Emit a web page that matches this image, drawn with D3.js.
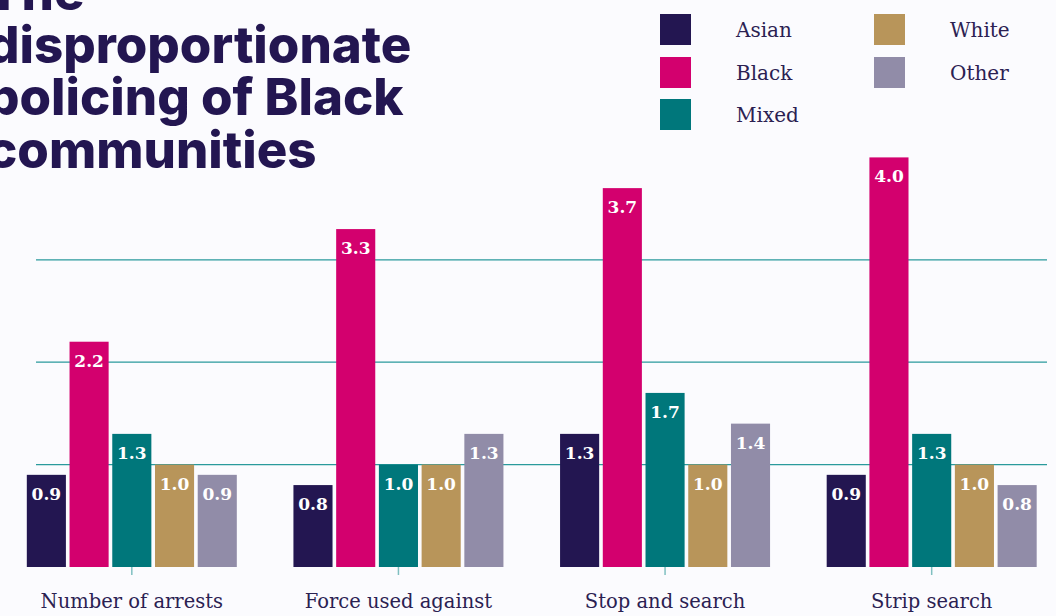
<!DOCTYPE html>
<html>
<head>
<meta charset="utf-8">
<script src="https://cdn.jsdelivr.net/npm/d3@7"></script>
<style>
  html, body { margin: 0; padding: 0; background: #fbfbfe; }
  svg { display: block; }
</style>
</head>
<body>
<svg id="chart" width="1056" height="616"></svg>
<script>
// Rates relative to the White group, by police action
const categories = ["Number of arrests", "Force used against", "Stop and search", "Strip search"];
const groups = ["Asian", "Black", "Mixed", "White", "Other"];
const asian = [0.9, 0.8, 1.3, 0.9];
const black = [2.2, 3.3, 3.7, 4.0];
const mixed = [1.3, 1.0, 1.7, 1.3];
const white = [1.0, 1.0, 1.0, 1.0];
const other = [0.9, 1.3, 1.4, 0.8];
const gridValues = [1, 2, 3];
const titleLines = ["The", "disproportionate", "policing of Black", "communities"];

const seriesValues = { Asian: asian, Black: black, Mixed: mixed, White: white, Other: other };
const colors = { Asian: "#231651", Black: "#d3006e", Mixed: "#00777b", White: "#b8955a", Other: "#918ca8" };

const svg = d3.select("#chart");
const ink = "#2b2152";
const serif = "'DejaVu Serif', 'Liberation Serif', serif";

const x0 = d3.scaleBand().domain(categories).range([-1.5, 1065]).padding(0);
const x1 = d3.scaleBand().domain(groups).range([0, 210]).paddingInner(0.085).paddingOuter(0);
const y = d3.scaleLinear().domain([0, 4]).range([567, 157.4]);

// Horizontal gridlines
svg.append("g").selectAll("line").data(gridValues).join("line")
  .attr("x1", 36).attr("x2", 1047)
  .attr("y1", d => y(d)).attr("y2", d => y(d))
  .attr("stroke", "#2a9a9c").attr("stroke-width", 1.2);

// Bars
const table = categories.map((c, i) => ({ category: c, values: groups.map(g => ({ group: g, value: seriesValues[g][i] })) }));
const groupG = svg.append("g").selectAll("g").data(table).join("g")
  .attr("transform", d => `translate(${x0(d.category) + x0.bandwidth() / 2 - 105},0)`);

groupG.selectAll("rect").data(d => d.values).join("rect")
  .attr("x", d => x1(d.group))
  .attr("width", x1.bandwidth())
  .attr("y", d => y(d.value))
  .attr("height", d => y(0) - y(d.value))
  .attr("fill", d => colors[d.group]);

groupG.selectAll("text").data(d => d.values).join("text")
  .attr("x", d => x1(d.group) + x1.bandwidth() / 2)
  .attr("y", d => y(d.value) + 25)
  .attr("text-anchor", "middle")
  .attr("font-family", serif)
  .attr("font-weight", "bold")
  .attr("font-size", 17)
  .attr("fill", "#ffffff")
  .text(d => d.value.toFixed(1));

// Category axis
const xAxis = d3.axisBottom(x0).tickSize(8).tickSizeOuter(0);
const axisG = svg.append("g").attr("transform", `translate(0,${y(0)})`).call(xAxis);
axisG.select(".domain").remove();
axisG.selectAll(".tick line").attr("stroke", "#7fbfc0").attr("stroke-width", 1.5);
axisG.selectAll(".tick text")
  .attr("y", 0).attr("dy", 0)
  .attr("transform", "translate(0,41)")
  .attr("font-family", serif)
  .attr("font-size", 19.5)
  .attr("fill", ink);

// Legend
const legendPos = {
  Asian: [660, 14], Black: [660, 57], Mixed: [660, 99],
  White: [874, 14], Other: [874, 57]
};
const legend = svg.append("g").selectAll("g").data(groups).join("g")
  .attr("transform", d => `translate(${legendPos[d][0]},${legendPos[d][1]})`);
legend.append("rect").attr("width", 31).attr("height", 31).attr("fill", d => colors[d]);
legend.append("text")
  .attr("x", 76).attr("y", 23)
  .attr("font-family", serif).attr("font-size", 20)
  .attr("fill", ink)
  .text(d => d);

// Title
svg.append("text")
  .attr("font-family", "Inter, 'Open Sans', sans-serif")
  .attr("font-weight", 800)
  .attr("font-size", 51)
  .attr("fill", "#231651")
  .selectAll("tspan").data(titleLines).join("tspan")
  .attr("x", -13)
  .attr("y", (d, i) => 10.2 + i * 52.5)
  .text(d => d);
</script>
</body>
</html>
